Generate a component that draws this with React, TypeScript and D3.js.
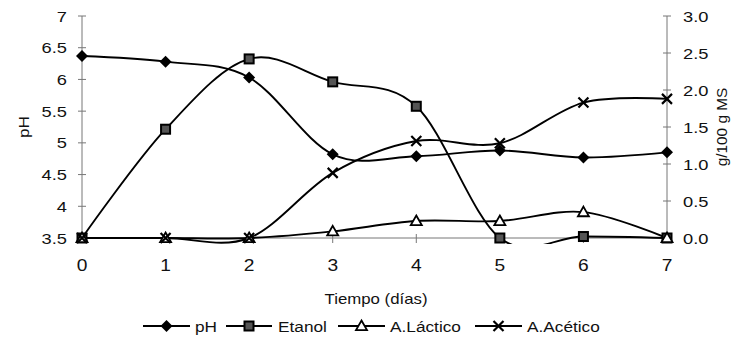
import React from "react";
import * as d3 from "d3";

const days = [0, 1, 2, 3, 4, 5, 6, 7];
const phValues = [6.37, 6.28, 6.03, 4.82, 4.79, 4.88, 4.77, 4.85];
const etanolValues = [0, 1.47, 2.42, 2.11, 1.78, 0, 0.02, 0];
const lacticoValues = [0, 0, 0, 0.09, 0.23, 0.23, 0.35, 0];
const aceticoValues = [0, 0, 0, 0.88, 1.31, 1.28, 1.83, 1.88];
const leftTicks = [3.5, 4, 4.5, 5, 5.5, 6, 6.5, 7];
const rightTicks = [0, 0.5, 1, 1.5, 2, 2.5, 3];
const legendLabels = ["pH", "Etanol", "A.Láctico", "A.Acético"];

const W = 737, H = 343;
const x = d3.scaleLinear().domain([0, 7]).range([82, 667]);
const yL = d3.scaleLinear().domain([3.5, 7]).range([238, 16]);
const yR = d3.scaleLinear().domain([0, 3]).range([238, 16]);
const FONT = "'Liberation Sans', Arial, sans-serif";

function Txt({ x: tx, y: ty, anchor = "start", size = 15, sx = 1.22, rotate = 0, children }: any) {
  return (
    <text
      transform={`translate(${tx},${ty}) rotate(${rotate}) scale(${sx},1)`}
      textAnchor={anchor}
      fontFamily={FONT}
      fontSize={size}
      fill="#111"
    >
      {children}
    </text>
  );
}

function Marker({ kind, cx, cy }: any) {
  if (kind === "diamond") {
    const r = 6;
    return <path d={`M${cx},${cy - r}L${cx + r},${cy}L${cx},${cy + r}L${cx - r},${cy}Z`} fill="#000" />;
  }
  if (kind === "square") {
    const s = 9;
    return <rect x={cx - s / 2} y={cy - s / 2} width={s} height={s} fill="#555" stroke="#000" strokeWidth={2} />;
  }
  if (kind === "triangle") {
    const r = 5.5;
    return (
      <path
        d={`M${cx},${cy - r}L${cx + r},${cy + r * 0.75}L${cx - r},${cy + r * 0.75}Z`}
        fill="#fff"
        stroke="#000"
        strokeWidth={1.8}
      />
    );
  }
  const r = 5;
  return (
    <path d={`M${cx - r},${cy - r}L${cx + r},${cy + r}M${cx - r},${cy + r}L${cx + r},${cy - r}`} stroke="#000" strokeWidth={2.2} />
  );
}

export default function App() {
  const line = (scale: any) =>
    d3
      .line<number>()
      .x((_, i) => x(days[i]))
      .y((v) => scale(v))
      .curve(d3.curveCatmullRom.alpha(0));

  const series = [
    { vals: phValues, scale: yL, kind: "diamond" },
    { vals: etanolValues, scale: yR, kind: "square" },
    { vals: lacticoValues, scale: yR, kind: "triangle" },
    { vals: aceticoValues, scale: yR, kind: "x" },
  ];

  const legendPos = [
    { x1: 143, x2: 190, tx: 195 },
    { x1: 226, x2: 272, tx: 278 },
    { x1: 338, x2: 385, tx: 390 },
    { x1: 475, x2: 522, tx: 527 },
  ];
  const legendY = 326;
  const axisColor = "#777";

  return (
    <svg width={W} height={H} style={{ position: "absolute", left: 0, top: 0, background: "#fff" }}>
      <defs>
        <clipPath id="plotclip">
          <rect x={70} y={8} width={610} height={236} />
        </clipPath>
      </defs>
      {/* axes */}
      <line x1={x(0)} x2={x(0)} y1={yL(7)} y2={yL(3.5)} stroke={axisColor} strokeWidth={1} />
      <line x1={x(7)} x2={x(7)} y1={yR(3)} y2={yR(0)} stroke={axisColor} strokeWidth={1} />
      <line x1={x(0)} x2={x(7)} y1={yL(3.5)} y2={yL(3.5)} stroke={axisColor} strokeWidth={1} />
      {leftTicks.map((t) => (
        <g key={"l" + t}>
          <line x1={x(0) - 4} x2={x(0) + 4} y1={yL(t)} y2={yL(t)} stroke={axisColor} />
          <Txt x={67} y={yL(t) + 5.5} anchor="end">
            {String(t)}
          </Txt>
        </g>
      ))}
      {rightTicks.map((t) => (
        <g key={"r" + t}>
          <line x1={x(7) - 4} x2={x(7) + 4} y1={yR(t)} y2={yR(t)} stroke={axisColor} />
          <Txt x={683} y={yR(t) + 5.5} anchor="start">
            {t.toFixed(1)}
          </Txt>
        </g>
      ))}
      {days.map((d) => (
        <g key={"x" + d}>
          <line x1={x(d)} x2={x(d)} y1={yL(3.5) - 4} y2={yL(3.5) + 5} stroke={axisColor} />
          <Txt x={x(d)} y={271} anchor="middle" size={16} sx={1.2}>
            {String(d)}
          </Txt>
        </g>
      ))}
      <Txt x={29} y={127} anchor="middle" rotate={-90} sx={1.15}>
        pH
      </Txt>
      <Txt x={727} y={127} anchor="middle" rotate={-90} sx={1.1} size={14}>
        g/100 g MS
      </Txt>
      <Txt x={376} y={304} anchor="middle" size={14} sx={1.2}>
        Tiempo (días)
      </Txt>
      {/* series */}
      <g clipPath="url(#plotclip)">
        {series.map((s, i) => (
          <path key={"s" + i} d={line(s.scale)(s.vals) || ""} fill="none" stroke="#000" strokeWidth={1.9} />
        ))}
      </g>
      {series.map((s, i) => (
        <g key={"m" + i}>
          {s.vals.map((v, j) => (
            <Marker key={j} kind={s.kind} cx={x(days[j])} cy={s.scale(v)} />
          ))}
        </g>
      ))}
      {/* legend */}
      {series.map((s, i) => {
        const p = legendPos[i];
        return (
          <g key={"lg" + i}>
            <line x1={p.x1} x2={p.x2} y1={legendY} y2={legendY} stroke="#000" strokeWidth={1.9} />
            <Marker kind={s.kind} cx={(p.x1 + p.x2) / 2} cy={legendY} />
            <Txt x={p.tx} y={legendY + 5.5} size={15} sx={1.15}>
              {legendLabels[i]}
            </Txt>
          </g>
        );
      })}
    </svg>
  );
}
